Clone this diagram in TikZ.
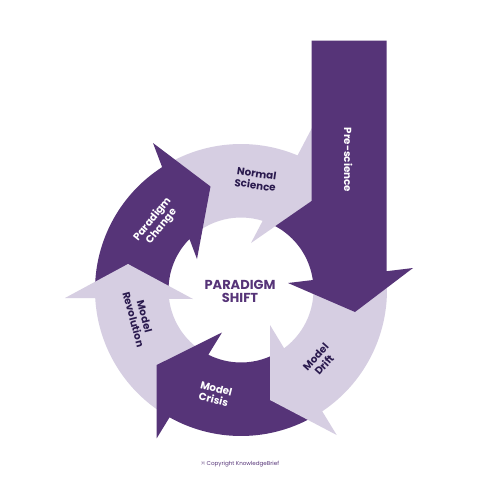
\documentclass[tikz,border=0pt]{standalone}
\usepackage{fontspec}
\setmainfont{Poppins}
\definecolor{darkp}{RGB}{86,52,120}
\definecolor{lightp}{RGB}{214,206,226}
\definecolor{navyp}{RGB}{42,26,78}
\begin{document}
\begin{tikzpicture}[x=1pt,y=1pt,
  darkarrow/.style={fill=darkp},
  lightarrow/.style={fill=lightp},
  onlight/.style={text=navyp,font=\bfseries\fontsize{10.3}{11.5}\selectfont,align=center,inner sep=0pt},
  ondark/.style={text=white,font=\bfseries\fontsize{10.3}{11.5}\selectfont,align=center,inner sep=0pt}]
\useasboundingbox[fill=white] (0,0) rectangle (480,-480);
\coordinate (C) at (241,-290);
% Normal Science (light)
\fill[lightarrow] ([shift={(122.7:146)}]C) -- (210.5,-186.5) -- ([shift={(135.3:72.5)}]C)
  arc[start angle=135.3,end angle=72.6,radius=72.5] -- (251,-243) -- (313,-200) -- (313,-126)
  -- ([shift={(67.2:146)}]C) arc[start angle=67.2,end angle=122.7,radius=146] -- cycle;
% Paradigm Change (dark)
\fill[darkarrow] ([shift={(183.2:146)}]C) -- (128,-264) -- ([shift={(186.97:72.5)}]C)
  arc[start angle=186.97,end angle=135.3,radius=72.5] -- (197,-259) -- (210.5,-186.5) -- (153,-143)
  -- ([shift={(122.7:146)}]C) arc[start angle=122.7,end angle=183.2,radius=146] -- cycle;
% Model Revolution (light)
\fill[lightarrow] ([shift={(240.7:146)}]C) -- (156.7,-365) -- ([shift={(243.2:72.5)}]C)
  arc[start angle=243.2,end angle=186.97,radius=72.5] -- (193,-299) -- (128,-264) -- (65,-298)
  -- ([shift={(183.2:146)}]C) arc[start angle=183.2,end angle=240.7,radius=146] -- cycle;
% Model Crisis (dark)
\fill[darkarrow] ([shift={(303.8:146)}]C) -- (270,-400) -- ([shift={(306.5:72.5)}]C)
  arc[start angle=306.5,end angle=243.2,radius=72.5] -- (222,-332.5) -- (156.7,-365) -- (156.7,-438.3)
  -- ([shift={(240.7:146)}]C) arc[start angle=240.7,end angle=303.8,radius=146] -- cycle;
% Model Drift (light)
\fill[lightarrow] ([shift={(7.36:146)}]C) -- (355,-312) -- ([shift={(7.9:72.5)}]C)
  arc[start angle=7.9,end angle=-53.5,radius=72.5] -- (270,-325) -- (270,-400) -- (336.7,-435)
  -- ([shift={(-56.2:146)}]C) arc[start angle=-56.2,end angle=7.36,radius=146] -- cycle;
% Pre-science (dark)
\fill[darkarrow] (311.7,-40.7) -- (386.7,-40.7) -- (386.7,-271.2) -- (413,-268) -- (355,-312)
  -- (288,-283) -- ([shift={(7.9:72.5)}]C) arc[start angle=7.9,end angle=61.8,radius=72.5]
  -- (311.7,-200.9) -- cycle;
% labels
\node[onlight,rotate=-8] (ns) at (256,-179.5) {Normal\\Science};
\node[ondark,rotate=51] (pc) at (157,-223) {Paradigm\\Change};
\node[onlight,rotate=-75] (mr) at (139,-318) {Model\\Revolution};
\node[ondark,rotate=-14] (mc) at (215,-394) {Model\\Crisis};
\node[onlight,rotate=48] (md) at (320,-361) {Model\\Drift};
\node[ondark,rotate=-90] (ps) at (348.3,-160) {Pre-science};
\node[text=darkp,font=\bfseries\fontsize{13}{13.5}\selectfont,align=center,inner sep=0pt] (center) at (240,-291.5) {PARADIGM\\SHIFT};
\node[text=darkp,font=\fontsize{5.6}{6}\selectfont,inner sep=0pt] (copy) at (240,-464) {© Copyright KnowledgeBrief};
\end{tikzpicture}
\end{document}
